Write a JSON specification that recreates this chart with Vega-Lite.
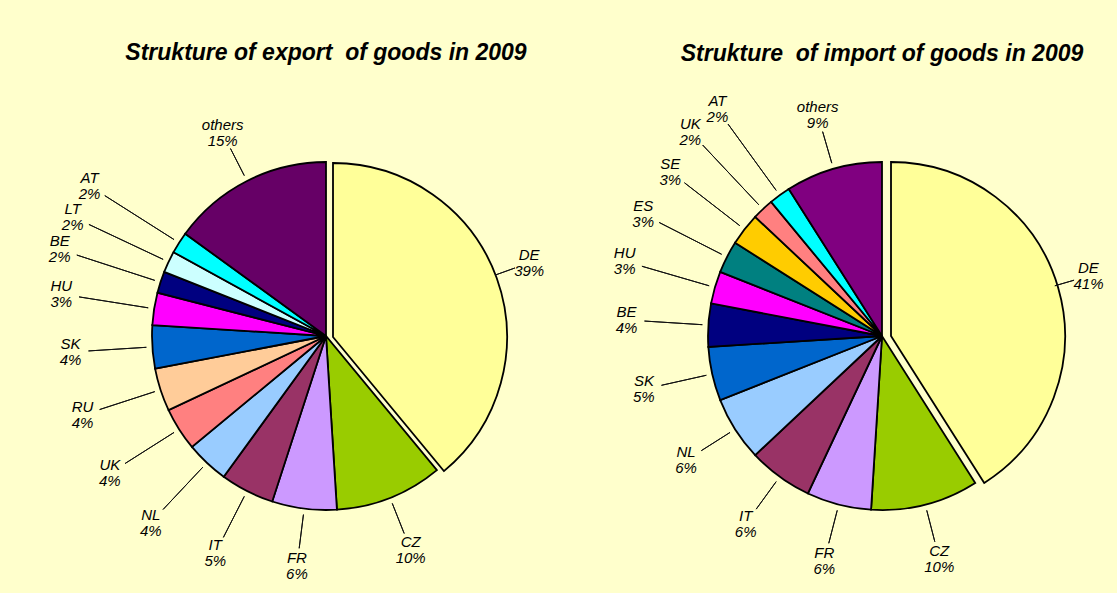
{
  "$schema": "https://vega.github.io/schema/vega-lite/v6.json",
  "background": "#FFFFCC",
  "padding": {"left": 48, "top": 42, "right": 0, "bottom": 10},
  "bounds": "flush",
  "spacing": 86,
  "config": {"view": {"stroke": null}, "font": "Liberation Sans"},
  "resolve": {"scale": {"color": "independent", "theta": "independent", "radius": "independent"}},
  "hconcat": [
    {
      "width": 470,
      "height": 470,
      "title": {"text": "Strukture of export\u00a0 of goods in 2009", "font": "Liberation Sans", "fontSize": 23, "fontStyle": "italic", "fontWeight": "bold", "color": "#000000", "anchor": "middle", "frame": "group", "offset": 36},
      "data": {"values": [
        {"country": "DE", "share": 0.39, "rank": 1},
        {"country": "CZ", "share": 0.10, "rank": 2},
        {"country": "FR", "share": 0.06, "rank": 3},
        {"country": "IT", "share": 0.05, "rank": 4},
        {"country": "NL", "share": 0.04, "rank": 5},
        {"country": "UK", "share": 0.04, "rank": 6},
        {"country": "RU", "share": 0.04, "rank": 7},
        {"country": "SK", "share": 0.04, "rank": 8},
        {"country": "HU", "share": 0.03, "rank": 9},
        {"country": "BE", "share": 0.02, "rank": 10},
        {"country": "LT", "share": 0.02, "rank": 11},
        {"country": "AT", "share": 0.02, "rank": 12},
        {"country": "others", "share": 0.15, "rank": 13}
      ]},
      "encoding": {
        "theta": {"field": "share", "type": "quantitative", "stack": true},
        "order": {"field": "rank", "type": "quantitative"},
        "detail": {"field": "country", "type": "nominal"}
      },
      "resolve": {"scale": {"radius": "independent"}},
      "layer": [
        {
          "mark": {"type": "arc", "radius": 174, "stroke": "#000000", "strokeWidth": 1.8},
          "encoding": {
            "color": {"field": "country", "type": "nominal", "legend": null, "scale": {
              "domain": ["DE", "CZ", "FR", "IT", "NL", "UK", "RU", "SK", "HU", "BE", "LT", "AT", "others"],
              "range": ["#FFFF99", "#99CC00", "#CC99FF", "#993366", "#99CCFF", "#FF8080", "#FFCC99", "#0066CC", "#FF00FF", "#000080", "#CCFFFF", "#00FFFF", "#660066"]}},
            "opacity": {"condition": {"test": "datum.country === 'DE'", "value": 0}, "value": 1}
          }
        },
        {
          "transform": [{"filter": "datum.country === 'DE'"}],
          "mark": {"type": "arc", "radius": 174, "stroke": "#000000", "strokeWidth": 1.8, "xOffset": 7, "yOffset": 1},
          "encoding": {
            "color": {"field": "country", "type": "nominal", "legend": null, "scale": {
              "domain": ["DE", "CZ", "FR", "IT", "NL", "UK", "RU", "SK", "HU", "BE", "LT", "AT", "others"],
              "range": ["#FFFF99", "#99CC00", "#CC99FF", "#993366", "#99CCFF", "#FF8080", "#FFCC99", "#0066CC", "#FF00FF", "#000080", "#CCFFFF", "#00FFFF", "#660066"]}}
          }
        },
        {
          "mark": {"type": "arc", "radius2": 180, "padAngle": 3, "fillOpacity": 0, "stroke": "#111111", "strokeWidth": 1},
          "encoding": {
            "radius": {"field": "share", "type": "quantitative", "scale": {"type": "linear", "domain": [0.02, 0.06, 0.41], "range": [262, 214, 200], "clamp": true, "zero": false}}
          }
        },
        {
          "mark": {"type": "text", "font": "Liberation Sans", "fontStyle": "italic", "fontSize": 15, "dy": -8, "color": "#000000"},
          "encoding": {
            "text": {"field": "country", "type": "nominal"},
            "radius": {"field": "share", "type": "quantitative", "scale": {"type": "linear", "domain": [0.02, 0.06, 0.41], "range": [280, 232, 215], "clamp": true, "zero": false}}
          }
        },
        {
          "mark": {"type": "text", "font": "Liberation Sans", "fontStyle": "italic", "fontSize": 15, "dy": 8, "color": "#000000"},
          "encoding": {
            "text": {"field": "share", "type": "quantitative", "format": ".0%"},
            "radius": {"field": "share", "type": "quantitative", "scale": {"type": "linear", "domain": [0.02, 0.06, 0.41], "range": [280, 232, 215], "clamp": true, "zero": false}}
          }
        }
      ]
    },
    {
      "width": 470,
      "height": 470,
      "title": {"text": "Strukture\u00a0 of import of goods in 2009", "font": "Liberation Sans", "fontSize": 23, "fontStyle": "italic", "fontWeight": "bold", "color": "#000000", "anchor": "middle", "frame": "group", "offset": 28},
      "data": {"values": [
        {"country": "DE", "share": 0.41, "rank": 1},
        {"country": "CZ", "share": 0.10, "rank": 2},
        {"country": "FR", "share": 0.06, "rank": 3},
        {"country": "IT", "share": 0.06, "rank": 4},
        {"country": "NL", "share": 0.06, "rank": 5},
        {"country": "SK", "share": 0.05, "rank": 6},
        {"country": "BE", "share": 0.04, "rank": 7},
        {"country": "HU", "share": 0.03, "rank": 8},
        {"country": "ES", "share": 0.03, "rank": 9},
        {"country": "SE", "share": 0.03, "rank": 10},
        {"country": "UK", "share": 0.02, "rank": 11},
        {"country": "AT", "share": 0.02, "rank": 12},
        {"country": "others", "share": 0.09, "rank": 13}
      ]},
      "encoding": {
        "theta": {"field": "share", "type": "quantitative", "stack": true},
        "order": {"field": "rank", "type": "quantitative"},
        "detail": {"field": "country", "type": "nominal"}
      },
      "resolve": {"scale": {"radius": "independent"}},
      "layer": [
        {
          "mark": {"type": "arc", "radius": 174, "stroke": "#000000", "strokeWidth": 1.8},
          "encoding": {
            "color": {"field": "country", "type": "nominal", "legend": null, "scale": {
              "domain": ["DE", "CZ", "FR", "IT", "NL", "SK", "BE", "HU", "ES", "SE", "UK", "AT", "others"],
              "range": ["#FFFF99", "#99CC00", "#CC99FF", "#993366", "#99CCFF", "#0066CC", "#000080", "#FF00FF", "#008080", "#FFCC00", "#FF8080", "#00FFFF", "#800080"]}},
            "opacity": {"condition": {"test": "datum.country === 'DE'", "value": 0}, "value": 1}
          }
        },
        {
          "transform": [{"filter": "datum.country === 'DE'"}],
          "mark": {"type": "arc", "radius": 174, "stroke": "#000000", "strokeWidth": 1.8, "xOffset": 9, "yOffset": 0},
          "encoding": {
            "color": {"field": "country", "type": "nominal", "legend": null, "scale": {
              "domain": ["DE", "CZ", "FR", "IT", "NL", "SK", "BE", "HU", "ES", "SE", "UK", "AT", "others"],
              "range": ["#FFFF99", "#99CC00", "#CC99FF", "#993366", "#99CCFF", "#0066CC", "#000080", "#FF00FF", "#008080", "#FFCC00", "#FF8080", "#00FFFF", "#800080"]}}
          }
        },
        {
          "mark": {"type": "arc", "radius2": 180, "padAngle": 3, "fillOpacity": 0, "stroke": "#111111", "strokeWidth": 1},
          "encoding": {
            "radius": {"field": "share", "type": "quantitative", "scale": {"type": "linear", "domain": [0.02, 0.06, 0.41], "range": [262, 214, 200], "clamp": true, "zero": false}}
          }
        },
        {
          "mark": {"type": "text", "font": "Liberation Sans", "fontStyle": "italic", "fontSize": 15, "dy": -8, "color": "#000000"},
          "encoding": {
            "text": {"field": "country", "type": "nominal"},
            "radius": {"field": "share", "type": "quantitative", "scale": {"type": "linear", "domain": [0.02, 0.06, 0.41], "range": [280, 232, 215], "clamp": true, "zero": false}}
          }
        },
        {
          "mark": {"type": "text", "font": "Liberation Sans", "fontStyle": "italic", "fontSize": 15, "dy": 8, "color": "#000000"},
          "encoding": {
            "text": {"field": "share", "type": "quantitative", "format": ".0%"},
            "radius": {"field": "share", "type": "quantitative", "scale": {"type": "linear", "domain": [0.02, 0.06, 0.41], "range": [280, 232, 215], "clamp": true, "zero": false}}
          }
        }
      ]
    }
  ]
}
